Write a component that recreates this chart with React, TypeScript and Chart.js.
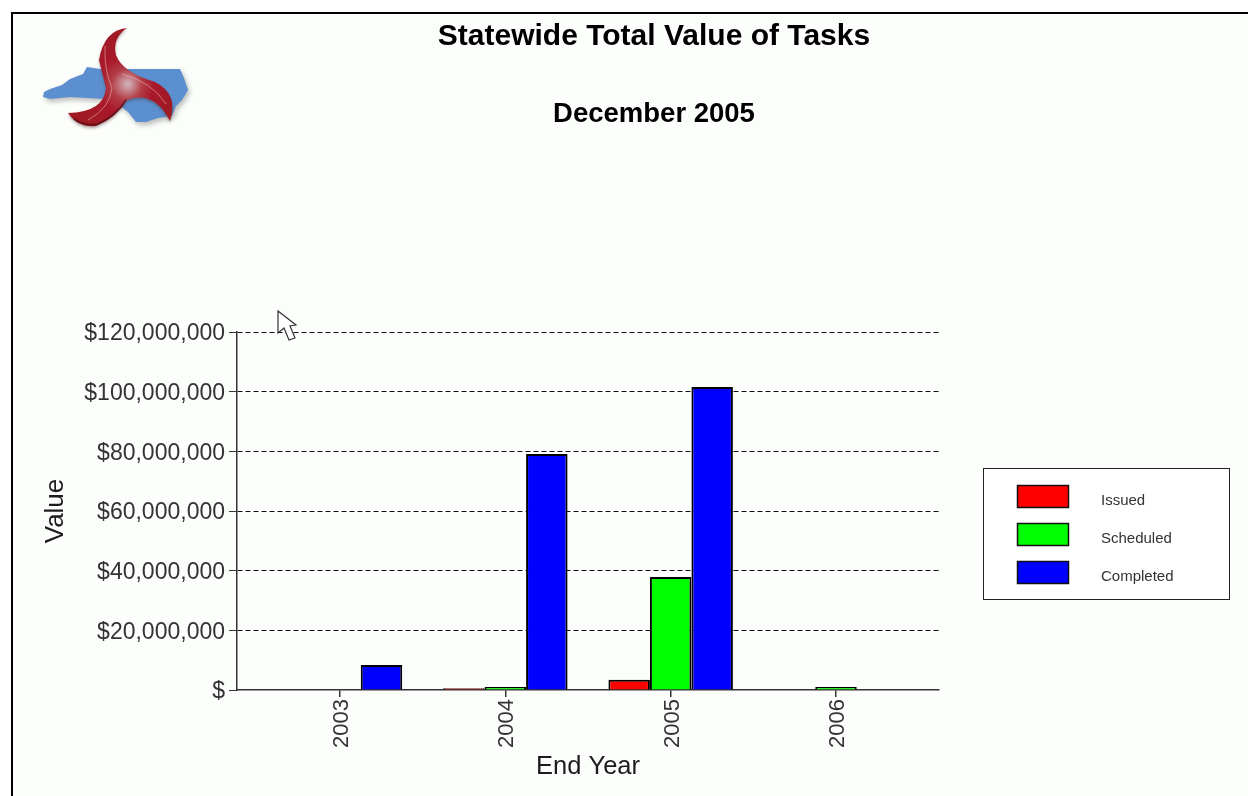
import React, { useEffect, useRef } from "react";
import { Chart, registerables } from "chart.js";

Chart.register(...registerables);

const titleText = "Statewide Total Value of Tasks";
const subtitleText = "December 2005";
const xAxisTitle = "End Year";
const yAxisTitle = "Value";
const years = [2003, 2004, 2005, 2006];
const issued = [null, 600000, 3400000, null];
const scheduled = [null, 1000000, 37900000, 1000000];
const completed = [8400000, 79100000, 101600000, null];

const FONT = '"Liberation Sans", Arial, sans-serif';
const TEXT = "#1c1c1c";

const points = (vals: (number | null)[]) => vals.map((y, i) => ({ x: years[i], y }));

function poly(ctx: CanvasRenderingContext2D, pts: number[][]) {
  ctx.beginPath();
  ctx.moveTo(pts[0][0], pts[0][1]);
  for (let i = 1; i < pts.length; i++) ctx.lineTo(pts[i][0], pts[i][1]);
  ctx.closePath();
}

function drawLogo(ctx: CanvasRenderingContext2D) {
  ctx.save();
  ctx.shadowColor = "rgba(90,90,90,0.4)";
  ctx.shadowBlur = 5;
  ctx.shadowOffsetX = 2;
  ctx.shadowOffsetY = 3;
  ctx.fillStyle = "#5b8fcf";
  poly(ctx, [[43,97],[44,92],[50,89],[62,85],[70,79],[83,74],[87,67],[100,69],[180,69],[184,78],[188,90],[182,100],[176,106],[172,116],[158,118],[146,122],[136,122],[128,112],[118,104],[105,99],[70,97],[50,99]]);
  ctx.fill();
  ctx.restore();

  ctx.save();
  ctx.shadowColor = "rgba(70,50,50,0.4)";
  ctx.shadowBlur = 3;
  ctx.shadowOffsetY = 2;
  const g = ctx.createRadialGradient(128, 84, 2, 124, 86, 50);
  g.addColorStop(0, "#cfa9ae");
  g.addColorStop(0.28, "#b33c46");
  g.addColorStop(0.55, "#a8182a");
  g.addColorStop(1, "#a01a24");
  ctx.fillStyle = g;
  ctx.beginPath();
  ctx.moveTo(127, 28);
  ctx.quadraticCurveTo(104, 30, 99, 60);
  ctx.quadraticCurveTo(103, 76, 106, 88);
  ctx.quadraticCurveTo(104, 112, 68, 113);
  ctx.quadraticCurveTo(78, 128, 96, 126);
  ctx.quadraticCurveTo(116, 118, 127, 100);
  ctx.quadraticCurveTo(154, 90, 170, 121);
  ctx.quadraticCurveTo(179, 94, 155, 82);
  ctx.quadraticCurveTo(122, 72, 116, 55);
  ctx.quadraticCurveTo(112, 38, 127, 28);
  ctx.closePath();
  ctx.fill();
  ctx.restore();

  ctx.save();
  ctx.strokeStyle = "rgba(240,190,190,0.55)";
  ctx.lineWidth = 1;
  ctx.beginPath();
  ctx.moveTo(105, 46);
  ctx.quadraticCurveTo(104, 70, 112, 88);
  ctx.quadraticCurveTo(110, 108, 88, 120);
  ctx.moveTo(122, 74);
  ctx.quadraticCurveTo(152, 82, 166, 104);
  ctx.stroke();
  ctx.strokeStyle = "rgba(70,10,15,0.6)";
  ctx.lineWidth = 2;
  ctx.beginPath();
  ctx.moveTo(74, 119);
  ctx.quadraticCurveTo(86, 127, 98, 124);
  ctx.quadraticCurveTo(116, 116, 126, 100);
  ctx.stroke();
  ctx.restore();
}

function drawCursor(ctx: CanvasRenderingContext2D) {
  ctx.save();
  ctx.fillStyle = "#ffffff";
  ctx.strokeStyle = "#333333";
  ctx.lineWidth = 1.2;
  poly(ctx, [[278,311],[278,333],[284,328],[289,340],[295,338],[290,326],[296,325]]);
  ctx.fill();
  ctx.stroke();
  ctx.restore();
}

function nudge(scale: any, dx: number, dy: number) {
  for (const item of scale.getLabelItems()) {
    const t = item.options.translation;
    item.options.translation = [t[0] + dx, t[1] + dy];
  }
}

const decor = {
  id: "decor",
  afterLayout(chart: any) {
    nudge(chart.scales.y, 0, 2);
    nudge(chart.scales.x, 2, 0);
  },
  beforeDraw(chart: any) {
    const ctx: CanvasRenderingContext2D = chart.ctx;
    ctx.save();
    ctx.fillStyle = "#ffffff";
    ctx.fillRect(0, 0, chart.width, chart.height);
    ctx.fillStyle = "#fcfefc";
    ctx.fillRect(13, 14, chart.width - 13, chart.height - 14);
    ctx.fillStyle = "#000000";
    ctx.fillRect(11, 12, chart.width - 11, 2);
    ctx.fillRect(11, 12, 2, chart.height - 12);
    drawLogo(ctx);
    ctx.textAlign = "center";
    ctx.textBaseline = "middle";
    ctx.fillStyle = "#000000";
    ctx.font = `bold 30px ${FONT}`;
    ctx.fillText(titleText, 654, 37);
    ctx.font = `bold 27.5px ${FONT}`;
    ctx.fillText(subtitleText, 654, 114);
    ctx.restore();
  },
  afterDraw(chart: any) {
    const ctx: CanvasRenderingContext2D = chart.ctx;
    ctx.save();
    drawCursor(ctx);
    ctx.fillStyle = "#ffffff";
    ctx.strokeStyle = "#222222";
    ctx.lineWidth = 1;
    ctx.fillRect(983.5, 468.5, 246, 131);
    ctx.strokeRect(983.5, 468.5, 246, 131);
    ctx.textAlign = "left";
    ctx.textBaseline = "middle";
    ctx.font = `15px ${FONT}`;
    chart.data.datasets.forEach((d: any, i: number) => {
      const y = 485.5 + i * 38;
      ctx.fillStyle = d.backgroundColor;
      ctx.fillRect(1017.5, y, 51, 22);
      ctx.strokeStyle = "#111111";
      ctx.lineWidth = 1.5;
      ctx.strokeRect(1017.5, y, 51, 22);
      ctx.fillStyle = "#333333";
      ctx.fillText(d.label, 1101, y + 15.5);
    });
    ctx.restore();
  },
};

export default function App() {
  const ref = useRef<HTMLCanvasElement>(null);
  useEffect(() => {
    document.body.style.margin = "0";
    const barStyle = { borderColor: "#000000", borderWidth: 2, barPercentage: 1, categoryPercentage: 0.753 };
    const chart = new Chart(ref.current!, {
      type: "bar",
      data: {
        datasets: [
          { label: "Issued", data: points(issued), backgroundColor: "#ff0000", ...barStyle },
          { label: "Scheduled", data: points(scheduled), backgroundColor: "#00ff00", ...barStyle },
          { label: "Completed", data: points(completed), backgroundColor: "#0000ff", ...barStyle },
        ] as any,
      },
      options: {
        responsive: false,
        animation: false,
        devicePixelRatio: 1,
        layout: { padding: { top: 332, right: 309, bottom: 0, left: 0 } },
        plugins: { legend: { display: false }, title: { display: false }, tooltip: { enabled: false } },
        scales: {
          x: {
            type: "linear",
            offset: false,
            min: 2002.377,
            max: 2006.623,
            grid: { offset: false, drawOnChartArea: false, tickLength: 7, color: "#333333", lineWidth: 1.5 },
            border: { color: "#333333", width: 1.5 },
            ticks: {
              stepSize: 1,
              includeBounds: false,
              autoSkip: false,
              minRotation: 90,
              maxRotation: 90,
              padding: 2,
              color: "#333333",
              font: { family: FONT, size: 22 },
              callback: (v: any) => String(v),
            },
            title: { display: true, text: xAxisTitle, color: TEXT, font: { family: FONT, size: 25.5 }, padding: { top: 2, bottom: 14 } },
            afterFit: (s: any) => { s.height = 106; },
          },
          y: {
            min: 0,
            max: 120000000,
            grid: {
              color: (c: any) => (c.tick && c.tick.value === 0 ? "transparent" : "#111111"),
              lineWidth: 1,
              tickBorderDash: [],
              tickColor: "#333333",
              tickLength: 8,
            },
            border: { color: "#333333", width: 1.5, dash: [5, 3] },
            ticks: {
              stepSize: 20000000,
              padding: 4,
              color: "#333333",
              font: { family: FONT, size: 23 },
              callback: (v: any) => "$" + (v === 0 ? "" : Number(v).toLocaleString("en-US")),
            },
            title: { display: true, text: yAxisTitle, color: TEXT, font: { family: FONT, size: 26 }, padding: { top: 40, bottom: 2 } },
            afterFit: (s: any) => { s.width = 237; },
          },
        },
      } as any,
      plugins: [decor],
    });
    return () => chart.destroy();
  }, []);
  return <canvas ref={ref} width={1248} height={796} style={{ display: "block" }} />;
}
